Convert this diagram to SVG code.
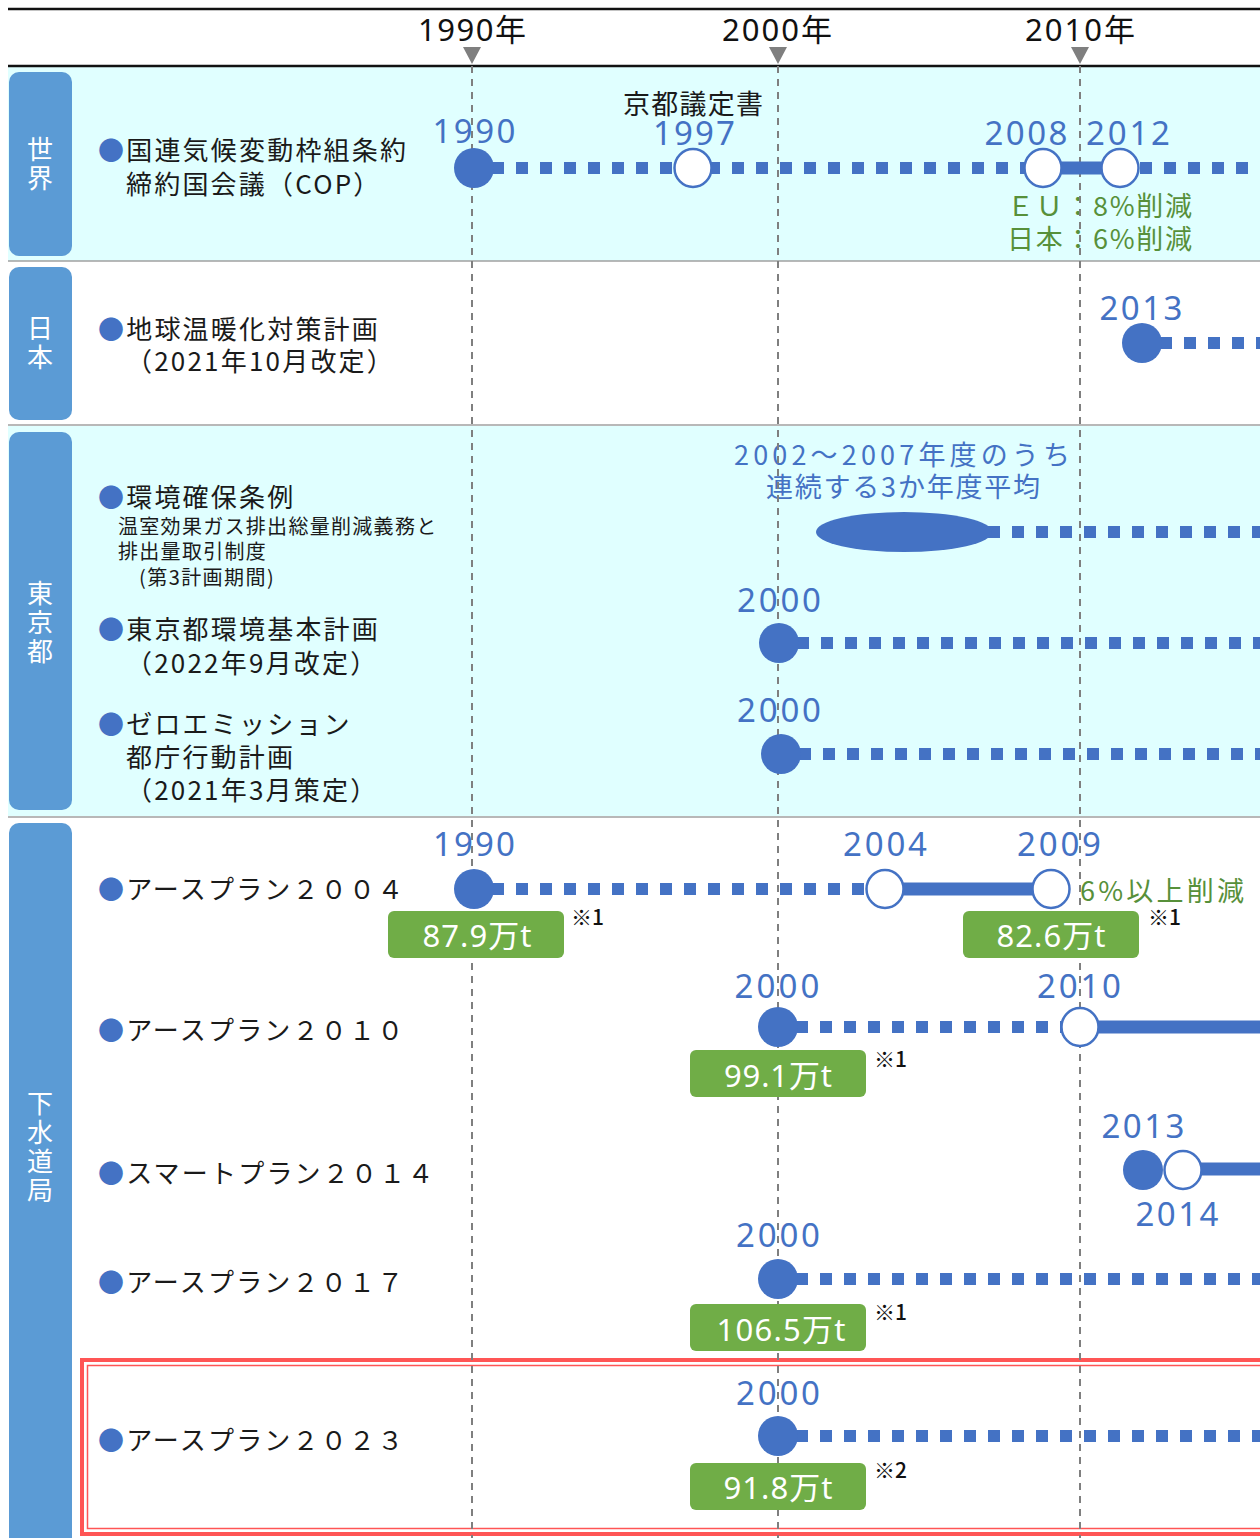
<svg xmlns="http://www.w3.org/2000/svg" width="1260" height="1538" viewBox="0 0 1260 1538">
<style>
text{font-family:"Noto Sans","Noto Sans CJK JP",sans-serif}
.lbl{font-family:"Noto Sans CJK JP","Noto Sans",sans-serif;font-size:26px;letter-spacing:2.2px;fill:#1a1a1a}
.sub{font-family:"Noto Sans CJK JP",sans-serif;font-size:20px;letter-spacing:1.3px;fill:#1a1a1a}
.bul{fill:#4472c4}
.side{font-family:"Noto Sans CJK JP",sans-serif;font-size:26px;fill:#fff;writing-mode:vertical-rl;letter-spacing:3px}
.hdr{font-size:31px;fill:#111;text-anchor:middle}
.yr{font-size:33px;fill:#4472c4;text-anchor:middle}
.ann{font-family:"Noto Sans CJK JP",sans-serif;font-size:27px;fill:#4472c4;text-anchor:middle}
.blk{font-family:"Noto Sans CJK JP",sans-serif;font-size:27px;fill:#1a1a1a;text-anchor:middle}
.grn{font-family:"Noto Sans CJK JP",sans-serif;font-size:27px;fill:#57903a}
.box{fill:#70ad47}
.boxt{font-size:31px;fill:#fff;text-anchor:middle}
.note{font-family:"Noto Sans CJK JP",sans-serif;font-size:21px;font-weight:500;fill:#111}
.sidebox{fill:#5b9bd5}
.dot{stroke:#4472c4;stroke-width:12;stroke-dasharray:12 12;fill:none}
.sol{stroke:#4472c4;stroke-width:13;fill:none}
.fc{fill:#4472c4}
.oc{fill:#fff;stroke:#4472c4;stroke-width:2.5}
.grid{stroke:#7f7f7f;stroke-width:2;stroke-dasharray:7 6}
.sep{stroke:#a0a0a0;stroke-width:1.5}
</style>
<g id="background">
<rect x="8" y="67" width="1252" height="194" fill="#e0ffff"/>
<rect x="8" y="426" width="1252" height="390" fill="#e0ffff"/>
<line x1="8" y1="9" x2="1260" y2="9" stroke="#111" stroke-width="2.5"/>
<line x1="8" y1="66" x2="1260" y2="66" stroke="#111" stroke-width="2.5"/>
<line class="sep" x1="8" y1="261" x2="1260" y2="261"/>
<line class="sep" x1="8" y1="425" x2="1260" y2="425"/>
<line class="sep" x1="8" y1="817" x2="1260" y2="817"/>
</g>
<g id="header">
<text class="hdr" x="472" y="41" textLength="108">1990年</text>
<text class="hdr" x="777" y="41" textLength="110">2000年</text>
<text class="hdr" x="1080" y="41" textLength="110">2010年</text>
</g>
<g id="side-world"><rect class="sidebox" x="9" y="72" width="63" height="184" rx="10"/><text class="side" x="40" y="136">世界</text></g>
<g id="side-japan"><rect class="sidebox" x="9" y="267" width="63" height="153" rx="10"/><text class="side" x="40" y="315">日本</text></g>
<g id="side-tokyo"><rect class="sidebox" x="9" y="432" width="63" height="378" rx="10"/><text class="side" x="40" y="580">東京都</text></g>
<g id="side-sewer"><rect class="sidebox" x="9" y="823" width="63" height="730" rx="10"/><text class="side" x="40" y="1090">下水道局</text></g>
<g id="red-frame" fill="none" stroke="#ff5555">
<rect x="82" y="1360" width="1220" height="174" stroke-width="4"/>
<rect x="87.5" y="1365.5" width="1210" height="163" stroke-width="1.5"/>
</g>
<g id="labels">
<text class="lbl" x="98" y="160"><tspan class="bul">●</tspan>国連気候変動枠組条約</text>
<text class="lbl" x="126" y="194">締約国会議（COP）</text>
<text class="lbl" x="98" y="339"><tspan class="bul">●</tspan>地球温暖化対策計画</text>
<text class="lbl" x="126" y="371">（2021年10月改定）</text>
<text class="lbl" x="98" y="507"><tspan class="bul">●</tspan>環境確保条例</text>
<text class="sub" x="118" y="534">温室効果ガス排出総量削減義務と</text>
<text class="sub" x="118" y="559">排出量取引制度</text>
<text class="sub" x="139" y="585" textLength="136">(第3計画期間)</text>
<text class="lbl" x="98" y="639"><tspan class="bul">●</tspan>東京都環境基本計画</text>
<text class="lbl" x="126" y="673">（2022年9月改定）</text>
<text class="lbl" x="98" y="734"><tspan class="bul">●</tspan>ゼロエミッション</text>
<text class="lbl" x="126" y="767">都庁行動計画</text>
<text class="lbl" x="126" y="800">（2021年3月策定）</text>
<text class="lbl" x="98" y="899"><tspan class="bul">●</tspan>アースプラン２００４</text>
<text class="lbl" x="98" y="1040"><tspan class="bul">●</tspan>アースプラン２０１０</text>
<text class="lbl" x="98" y="1183"><tspan class="bul">●</tspan>スマートプラン２０１４</text>
<text class="lbl" x="98" y="1292"><tspan class="bul">●</tspan>アースプラン２０１７</text>
<text class="lbl" x="98" y="1450"><tspan class="bul">●</tspan>アースプラン２０２３</text>
</g>
<g id="annotations">
<text class="yr" x="474" y="143" textLength="83">1990</text>
<text class="blk" x="693" y="114" textLength="140">京都議定書</text>
<text class="yr" x="694" y="145" textLength="82">1997</text>
<text class="yr" x="1026" y="145" textLength="83">2008</text>
<text class="yr" x="1128" y="145" textLength="84">2012</text>
<text class="grn" x="1007" y="216" textLength="185">ＥＵ：8%削減</text>
<text class="grn" x="1007" y="249" textLength="185">日本：6%削減</text>
<text class="yr" x="1141" y="320" textLength="83">2013</text>
<text class="ann" x="902" y="465" textLength="336">2002～2007年度のうち</text>
<text class="ann" x="903" y="497" textLength="274">連続する3か年度平均</text>
<text class="yr" x="779" y="612" textLength="84">2000</text>
<text class="yr" x="779" y="722" textLength="84">2000</text>
<text class="yr" x="474" y="856" textLength="82">1990</text>
<text class="yr" x="885" y="856" textLength="84">2004</text>
<text class="yr" x="1059" y="856" textLength="84">2009</text>
<text class="grn" x="1080" y="901" textLength="164">6%以上削減</text>
<text class="yr" x="777" y="998" textLength="85">2000</text>
<text class="yr" x="1079" y="998" textLength="84">2010</text>
<text class="yr" x="1143" y="1138" textLength="83">2013</text>
<text class="yr" x="1177" y="1226" textLength="83">2014</text>
<text class="yr" x="778" y="1247" textLength="84">2000</text>
<text class="yr" x="778" y="1405" textLength="84">2000</text>
</g>
<g id="gridlines">
<line class="grid" x1="472" y1="66" x2="472" y2="1538"/>
<line class="grid" x1="778" y1="66" x2="778" y2="1538"/>
<line class="grid" x1="1080" y1="66" x2="1080" y2="1538"/>
<path d="M463 47H481L472 64Z M769 47H787L778 64Z M1071 47H1089L1080 64Z" fill="#7f7f7f"/>
</g>
<g id="connectors">
<path class="dot" d="M492 168H1260"/>
<path class="sol" d="M1043 168H1120"/>
<path class="dot" d="M1160 343H1260"/>
<path class="dot" d="M988 532H1260"/>
<path class="dot" d="M797 643H1260"/>
<path class="dot" d="M799 754H1260"/>
<path class="dot" d="M492 889H870"/>
<path class="sol" d="M885 889H1051"/>
<path class="dot" d="M796 1027H1064"/>
<path class="sol" d="M1080 1027H1260"/>
<path class="sol" d="M1183 1169H1260"/>
<path class="dot" d="M796 1279H1260"/>
<path class="dot" d="M796 1436H1260"/>
</g>
<g id="nodes">
<g id="cop-1990"><ellipse class="fc" cx="474" cy="168" rx="20" ry="20"/></g>
<g id="cop-1997"><ellipse class="oc" cx="693" cy="168" rx="18.5" ry="19"/></g>
<g id="cop-2008"><ellipse class="oc" cx="1043" cy="168" rx="18.5" ry="19"/></g>
<g id="cop-2012"><ellipse class="oc" cx="1120" cy="168" rx="18.5" ry="19"/></g>
<g id="japan-2013"><ellipse class="fc" cx="1142" cy="343" rx="20" ry="20"/></g>
<g id="tokyo-avg"><ellipse class="fc" cx="904" cy="532" rx="88" ry="20"/></g>
<g id="tokyo-plan-2000"><ellipse class="fc" cx="779" cy="643" rx="20" ry="20"/></g>
<g id="tokyo-ze-2000"><ellipse class="fc" cx="781" cy="754" rx="20" ry="20"/></g>
<g id="ep2004-1990"><ellipse class="fc" cx="474" cy="889" rx="20" ry="20"/></g>
<g id="ep2004-2004"><ellipse class="oc" cx="885" cy="889" rx="18.5" ry="19"/></g>
<g id="ep2004-2009"><ellipse class="oc" cx="1051" cy="889" rx="18.5" ry="19"/></g>
<g id="ep2010-2000"><ellipse class="fc" cx="778" cy="1027" rx="20" ry="20"/></g>
<g id="ep2010-2010"><ellipse class="oc" cx="1080" cy="1027" rx="18.5" ry="19"/></g>
<g id="sp2014-2013"><ellipse class="fc" cx="1143" cy="1170" rx="20" ry="20"/></g>
<g id="sp2014-2014"><ellipse class="oc" cx="1183" cy="1170" rx="18.5" ry="19"/></g>
<g id="ep2017-2000"><ellipse class="fc" cx="778" cy="1279" rx="20" ry="20"/></g>
<g id="ep2023-2000"><ellipse class="fc" cx="778" cy="1436" rx="20" ry="20"/></g>
</g>
<g id="values">
<g id="v-879"><rect class="box" x="388" y="911" width="176" height="47" rx="6"/><text class="boxt" x="477" y="947" textLength="109">87.9万t</text><text class="note" x="571" y="925">※1</text></g>
<g id="v-826"><rect class="box" x="963" y="911" width="176" height="47" rx="6"/><text class="boxt" x="1051" y="947" textLength="109">82.6万t</text><text class="note" x="1148" y="925">※1</text></g>
<g id="v-991"><rect class="box" x="690" y="1050" width="176" height="47" rx="6"/><text class="boxt" x="778" y="1087" textLength="108">99.1万t</text><text class="note" x="874" y="1067">※1</text></g>
<g id="v-1065"><rect class="box" x="690" y="1304" width="176" height="47" rx="6"/><text class="boxt" x="781" y="1341" textLength="129">106.5万t</text><text class="note" x="874" y="1320">※1</text></g>
<g id="v-918"><rect class="box" x="690" y="1463" width="176" height="47" rx="6"/><text class="boxt" x="778" y="1499" textLength="109">91.8万t</text><text class="note" x="874" y="1478">※2</text></g>
</g>
</svg>
